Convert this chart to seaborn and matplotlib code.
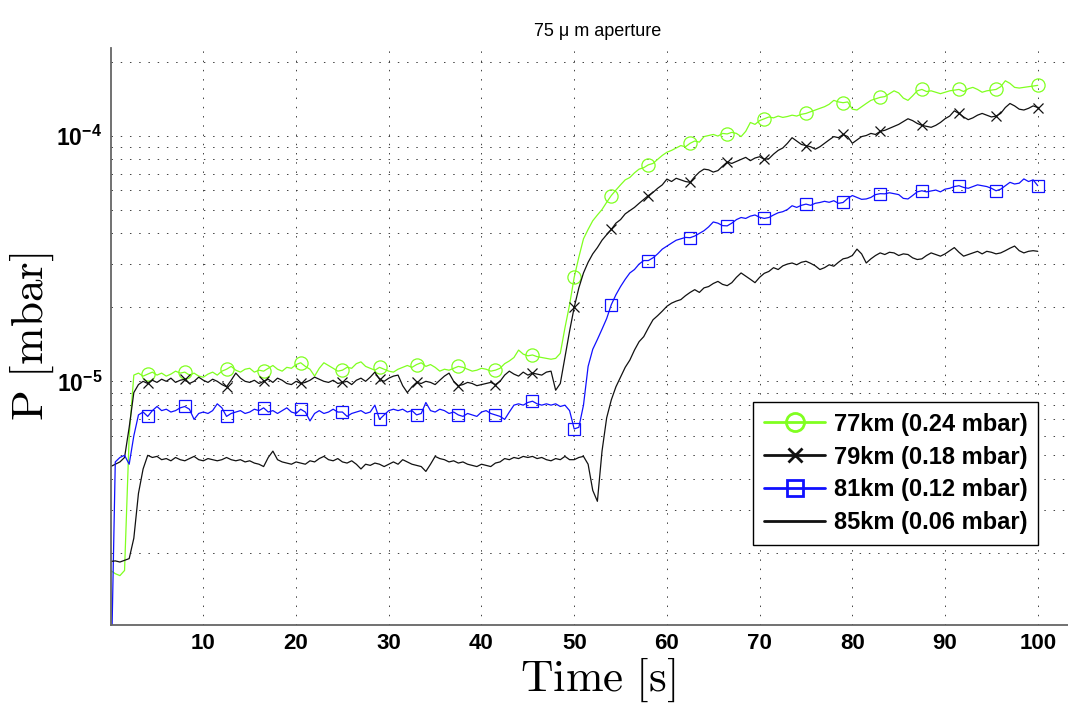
import numpy as np
import matplotlib
matplotlib.use("Agg")
import matplotlib.pyplot as plt
import seaborn as sns
from matplotlib.ticker import LogLocator, NullFormatter

# sampling times of the pressure logs [s]
t = np.arange(0, 100.5, 0.5)

# pressure readings, in units of 1e-6 mbar (one row = 5 s)
p_77km = [
    1.7, 1.65, 1.62, 1.7, 6.0, 10.6, 10.8, 10.5, 10.7, 10.9,
    10.6, 10.8, 10.5, 10.7, 11.0, 10.8, 10.9, 10.6, 10.8, 10.5,
    10.4, 10.7, 10.9, 10.6, 11.0, 11.2, 11.5, 11.1, 10.9, 11.2,
    11.3, 10.9, 11.1, 11.0, 11.3, 11.6, 11.2, 11.0, 11.4, 11.3,
    11.7, 11.9, 11.5, 11.2, 10.5, 11.3, 11.9, 11.6, 11.3, 11.0,
    11.1, 11.4, 11.3, 11.8, 12.0, 11.5, 11.3, 11.1, 11.4, 11.2,
    11.0, 10.9, 11.2, 11.4, 11.6, 11.4, 11.7, 11.9, 11.5, 11.7,
    11.4, 11.0, 11.2, 11.1, 11.3, 11.5, 11.4, 11.2, 11.0, 11.1,
    11.3, 11.2, 11.0, 11.1, 11.3, 11.8, 12.1, 12.5, 13.4, 12.9,
    12.7, 12.8, 12.6, 12.5, 12.4, 12.3, 12.4, 13.0, 16.5, 20.5,
    26.5, 32.0, 38.0, 41.5, 45.0, 47.5, 50.0, 53.5, 57.0, 60.0,
    63.0, 66.0, 67.5, 70.5, 73.0, 74.0, 76.0, 77.0, 80.0, 83.0,
    85.5, 87.0, 89.0, 91.0, 90.0, 93.0, 95.0, 94.0, 99.0, 100.0,
    101.0, 99.5, 102.0, 101.5, 103.0, 102.0, 99.0, 104.0, 113.0, 111.0,
    115.0, 117.0, 119.0, 118.0, 120.0, 118.5, 119.5, 121.0, 120.0, 122.0,
    123.0, 125.0, 127.0, 129.0, 131.0, 134.0, 139.0, 137.0, 136.0, 137.0,
    128.0, 127.0, 131.0, 135.0, 139.0, 141.0, 143.0, 144.0, 148.0, 152.0,
    149.0, 142.0, 139.0, 145.0, 152.0, 154.0, 151.0, 152.0, 150.0, 148.0,
    150.0, 152.0, 153.0, 154.0, 151.0, 155.0, 157.0, 154.0, 150.0, 152.0,
    153.0, 154.0, 158.0, 167.0, 163.0, 157.0, 156.0, 157.0, 158.0, 159.0,
    160.0]

p_79km = [
    4.5, 4.6, 4.7, 4.9, 6.5, 9.0, 9.7, 10.0, 9.8, 10.1,
    9.9, 10.2, 10.0, 10.3, 9.9, 10.1, 10.2, 9.8, 10.0, 10.4,
    10.1, 9.9, 10.2, 10.0, 9.7, 9.5, 10.1, 10.8, 10.3, 10.0,
    9.9, 10.1, 9.8, 10.0, 10.2, 9.9, 10.3, 10.1, 9.8, 9.7,
    10.0, 9.8, 9.9, 10.1, 10.4, 10.2, 10.0, 9.9, 10.1, 9.8,
    9.9, 10.0, 9.7, 10.1, 10.3, 10.0, 10.4, 10.9, 10.2, 10.0,
    10.3, 10.5, 10.6, 9.6, 9.0, 9.5, 9.9, 9.8, 10.0, 9.9,
    9.7, 10.1, 10.5, 10.8, 10.0, 9.6, 9.7, 9.9, 9.8, 9.6,
    9.7, 9.8, 9.9, 9.7, 10.0, 10.6, 11.0, 10.7, 10.5, 10.9,
    10.6, 10.8, 10.7, 10.6, 10.9, 11.0, 9.2, 9.8, 12.5, 16.0,
    20.0, 24.0, 27.6, 30.5, 33.0, 35.0, 37.5, 39.5, 41.5, 44.0,
    45.5, 48.0, 49.5, 51.0, 53.0, 55.0, 57.0, 58.7, 61.0, 63.0,
    66.5, 65.0, 67.0, 66.0, 65.0, 64.5, 68.0, 71.0, 73.0, 72.5,
    71.0, 72.0, 75.0, 78.0, 77.0, 78.5, 80.0, 81.5, 79.0, 81.0,
    82.0, 80.0, 80.5, 84.0, 87.0, 89.0, 93.0, 98.0, 95.0, 92.0,
    91.0, 90.0, 88.0, 90.0, 93.0, 96.0, 99.0, 98.0, 101.0, 99.0,
    93.0, 96.0, 99.0, 100.0, 102.0, 101.0, 104.0, 105.0, 107.0, 109.0,
    111.0, 114.0, 117.0, 115.0, 112.0, 110.0, 109.0, 108.0, 110.0, 113.0,
    117.0, 120.0, 126.0, 123.0, 119.0, 116.0, 118.0, 121.0, 123.0, 121.0,
    119.0, 120.0, 123.0, 130.0, 135.0, 132.0, 128.0, 127.0, 129.0, 132.0,
    130.0]

p_81km = [
    0.5, 4.7, 4.9, 5.0, 4.6, 6.0, 7.3, 7.5, 7.2, 7.6,
    7.9, 7.6, 7.7, 7.5, 7.6, 7.8, 7.9, 7.7, 7.0, 7.4,
    7.5, 7.4, 7.6, 8.1, 7.8, 7.2, 7.4, 7.5, 7.6, 7.4,
    7.5, 7.7, 7.6, 7.8, 7.5, 7.6, 7.4, 7.6, 7.8, 7.5,
    7.4, 7.7, 7.5, 6.9, 7.4, 7.6, 7.4, 7.5, 7.7, 7.5,
    7.5, 7.2, 7.4, 7.5, 7.6, 7.4, 7.5, 8.0, 7.0, 7.3,
    7.6, 7.7, 7.6, 7.7, 7.5, 7.6, 7.3, 7.4, 8.2, 7.6,
    7.5, 7.7, 7.6, 7.4, 7.5, 7.3, 7.2, 7.4, 7.3, 7.2,
    7.5, 7.6, 7.4, 7.3, 7.2, 7.0, 7.5, 8.0, 8.1, 8.0,
    8.2, 8.3, 8.1, 8.0, 8.1, 8.0, 8.1, 7.9, 8.0, 7.6,
    6.4, 6.5, 8.0, 11.5, 13.5, 14.8, 16.3, 18.0, 20.5, 22.5,
    24.3, 26.0, 27.6, 28.5, 30.0, 31.0, 31.0, 31.8, 33.0, 34.5,
    35.5, 36.5, 37.5, 38.0, 38.5, 38.4, 39.0, 40.0, 41.0, 42.5,
    44.5, 44.0, 43.0, 42.9, 44.0, 45.5, 46.4, 46.0, 47.0, 47.5,
    46.5, 46.0, 46.4, 47.5, 48.5, 49.0, 50.0, 51.8, 51.0, 52.0,
    52.6, 52.0, 53.0, 53.4, 54.0, 53.5, 54.3, 53.0, 53.4, 55.5,
    57.0, 56.0, 55.0, 55.2, 56.0, 57.5, 58.0, 57.9, 58.5, 58.0,
    57.5, 55.5, 55.2, 57.0, 59.0, 59.6, 59.0, 59.5, 60.0, 59.0,
    60.5, 61.0, 62.0, 62.5, 61.5, 61.0, 62.0, 63.0, 62.5, 62.0,
    61.0, 59.6, 60.5, 62.5, 64.5, 63.5, 64.0, 66.6, 65.0, 66.0,
    62.5]

p_85km = [
    1.85, 1.86, 1.84, 1.87, 1.9, 2.3, 3.5, 4.4, 5.0, 4.9,
    4.95, 4.8, 4.85, 4.75, 4.9, 4.8, 4.75, 4.85, 4.95, 4.8,
    4.75, 4.85, 4.8, 4.75, 4.8, 4.9, 4.8, 4.75, 4.8, 4.7,
    4.75, 4.65, 4.6, 4.5, 4.9, 5.2, 4.8, 4.7, 4.65, 4.6,
    4.7, 4.65, 4.6, 4.75, 4.7, 4.85, 4.95, 4.8, 4.75, 4.85,
    4.7, 4.65, 4.75, 4.6, 4.4, 4.6, 4.55, 4.65, 4.6, 4.5,
    4.6, 4.7, 4.6, 4.8, 4.7, 4.6, 4.55, 4.5, 4.3, 4.6,
    4.95, 4.85, 4.8, 4.7, 4.75, 4.65, 4.7, 4.6, 4.55, 4.5,
    4.6, 4.55, 4.5, 4.65, 4.7, 4.85, 4.8, 4.9, 4.85, 4.95,
    4.9, 4.95, 4.85, 4.9, 4.8, 4.75, 4.85, 4.8, 4.95, 4.8,
    4.8, 4.9, 4.95, 4.6, 3.6, 3.25, 5.2, 7.1, 8.4, 9.5,
    10.4, 11.4, 12.2, 13.4, 14.5, 15.2, 16.5, 17.8, 18.5, 19.3,
    20.2, 20.8, 21.2, 21.5, 22.3, 23.0, 23.6, 23.0, 24.0, 24.3,
    25.0, 25.5, 24.8, 24.5, 25.2, 26.5, 27.6, 26.8, 26.0, 25.2,
    26.5, 27.5, 28.0, 29.0, 28.5, 29.5, 30.0, 30.3, 29.8, 30.5,
    30.8, 30.2, 29.5, 28.5, 29.0, 29.8, 29.4, 30.5, 31.5, 31.8,
    32.5, 34.5, 33.0, 30.3, 31.5, 32.5, 33.3, 32.8, 33.5, 33.3,
    32.5, 33.0, 32.8, 31.8, 31.3, 31.5, 32.5, 33.3, 32.8, 32.3,
    33.0, 34.0, 35.0, 33.5, 32.3, 32.8, 33.3, 33.8, 33.0, 33.8,
    33.5, 33.0, 33.3, 34.0, 34.8, 35.5, 34.0, 33.3, 33.8, 34.0,
    33.8]

labels = ['77km (0.24 mbar)', '79km (0.18 mbar)',
          '81km (0.12 mbar)', '85km (0.06 mbar)']

# samples that carry a marker (about every 4.2 s, as in the original)
mark_idx = [8, 16, 25, 33, 41, 50, 58, 66, 75, 83, 91, 100,
            108, 116, 125, 133, 141, 150, 158, 166, 175, 183, 191, 200]

sns.set_theme(style='white')
plt.rcParams['font.family'] = ['Liberation Sans', 'DejaVu Sans']
plt.rcParams['mathtext.fontset'] = 'custom'
plt.rcParams['mathtext.rm'] = 'Liberation Sans'
plt.rcParams['mathtext.bf'] = 'Liberation Sans:bold'
for key in ['text.color', 'axes.labelcolor', 'xtick.color', 'ytick.color']:
    plt.rcParams[key] = 'black'

fig = plt.figure(figsize=(10.68, 7.04), dpi=100)
ax = fig.add_axes([0.1036, 0.1122, 0.9115, 0.8196])

green = '#80ff20'
blue = '#1010ff'
black = '#111111'

sns.lineplot(x=t, y=np.array(p_77km) * 1e-6, ax=ax, color=green, linewidth=0.9,
             marker='o', markersize=9.5, markerfacecolor='none',
             markeredgecolor=green, markeredgewidth=0.9, markevery=mark_idx,
             label=labels[0], estimator=None, errorbar=None)
sns.lineplot(x=t, y=np.array(p_79km) * 1e-6, ax=ax, color=black, linewidth=0.9,
             marker='x', markersize=7, markeredgecolor=black,
             markeredgewidth=0.9, markevery=mark_idx,
             label=labels[1], estimator=None, errorbar=None)
sns.lineplot(x=t, y=np.array(p_81km) * 1e-6, ax=ax, color=blue, linewidth=0.9,
             marker='s', markersize=8, markerfacecolor='none',
             markeredgecolor=blue, markeredgewidth=0.9, markevery=mark_idx,
             label=labels[2], estimator=None, errorbar=None)
sns.lineplot(x=t, y=np.array(p_85km) * 1e-6, ax=ax, color=black, linewidth=0.9,
             label=labels[3], estimator=None, errorbar=None)

ax.set_yscale('log')
ax.set_xlim(0, 105)
ax.set_ylim(1.02e-6, 2.27e-4)

ax.set_xticks(range(10, 101, 10))
ax.set_xticklabels([str(v) for v in range(10, 101, 10)], fontsize=16, fontweight='bold')
ax.set_yticks([1e-5, 1e-4])
ax.set_yticklabels([r'$\mathbf{10^{-5}}$', r'$\mathbf{10^{-4}}$'], fontsize=16.5)
ax.yaxis.set_minor_locator(LogLocator(base=10, subs=range(2, 10)))
ax.yaxis.set_minor_formatter(NullFormatter())
ax.tick_params(which='major', direction='in', length=7, width=1, color='#555555', pad=6)
ax.tick_params(which='minor', direction='in', length=4, width=0.8, color='#555555')
ax.tick_params(axis='x', which='minor', length=0)

grid_kw = dict(color='0.25', linewidth=0.7, linestyle=(0, (1.5, 8)))
ax.grid(True, which='major', axis='both', **grid_kw)
ax.grid(True, which='minor', axis='y', **grid_kw)

for side in ['top', 'right']:
    ax.spines[side].set_visible(False)
for side in ['left', 'bottom']:
    ax.spines[side].set_color('#666666')
    ax.spines[side].set_linewidth(1.3)

ax.set_xlabel(r'$\mathrm{Time}\ [\mathrm{s}]$', fontsize=32.5, math_fontfamily='cm', labelpad=1)
ax.set_ylabel(r'$\mathrm{P}\ [\mathrm{mbar}]$', fontsize=32.5, math_fontfamily='cm', labelpad=0)
ax.set_title('75 μ m aperture', fontsize=13, pad=9)

handles, labs = ax.get_legend_handles_labels()
leg = ax.legend(handles, labs, loc='upper right', bbox_to_anchor=(1038 / 1068, 1 - 402 / 704),
                bbox_transform=fig.transFigure, borderaxespad=0, fancybox=False,
                framealpha=1, edgecolor='black', handlelength=2.6, handletextpad=0.35,
                labelspacing=0.42, borderpad=0.45, prop={'weight': 'bold', 'size': 17})
leg.get_frame().set_linewidth(1.0)
for line, ms in zip(leg.get_lines(), [13, 10, 12, 0]):
    line.set_linewidth(2)
    line.set_markersize(ms)
    line.set_markeredgewidth(2)

fig.savefig('out.png', dpi=100)
